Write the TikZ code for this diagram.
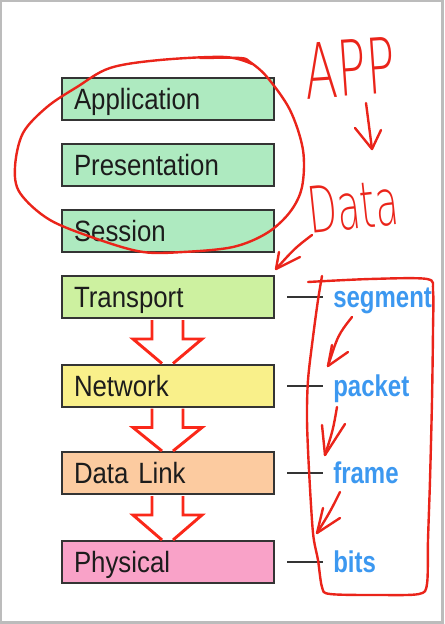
\documentclass[tikz,border=0pt]{standalone}
\usepackage{fontspec}
\setmainfont{Liberation Sans}
\newfontfamily\boxfont[FakeStretch=0.88]{Liberation Sans}
\newfontfamily\lblfont[FakeStretch=0.8]{Liberation Sans Bold}
\newfontfamily\handfont{DejaVu Sans ExtraLight}
\usetikzlibrary{calc}
\definecolor{framegray}{RGB}{188,188,188}
\definecolor{boxline}{RGB}{52,52,52}
\definecolor{txt}{RGB}{28,28,28}
\definecolor{fillA}{RGB}{174,234,192}
\definecolor{fillT}{RGB}{205,241,160}
\definecolor{fillN}{RGB}{249,240,138}
\definecolor{fillD}{RGB}{252,203,160}
\definecolor{fillP}{RGB}{249,162,200}
\definecolor{lblblue}{RGB}{60,152,240}
\definecolor{hollowred}{RGB}{250,40,25}
\definecolor{penred}{RGB}{234,36,26}
\begin{document}
\begin{tikzpicture}[x=0.75pt,y=-0.75pt,
  layerbox/.style={draw=boxline, line width=1.5pt, minimum width=159pt, minimum height=31.5pt,
    inner xsep=9pt, inner ysep=0pt, text width=141pt, align=left, text height=15.8pt, text depth=0pt,
    font=\boxfont\fontsize{22}{26}\selectfont, text=txt},
  lbl/.style={text=lblblue, font=\lblfont\fontsize{22.5}{26}\selectfont, inner xsep=7.5pt,
    inner ysep=0pt, text height=16pt, text depth=0pt, anchor=west},
  tick/.style={draw=boxline, line width=1.5pt},
  hollow/.style={draw=hollowred, line width=2.2pt, line join=miter},
  hand/.style={draw=penred, line width=1.8pt, line cap=round, line join=round},
  handtext/.style={text=penred, inner sep=0pt}]
\useasboundingbox (0,0) rectangle (444,624);
\draw[framegray, line width=1.6pt] (1,1) rectangle (442.5,622.5);

% layer boxes
\node[layerbox, fill=fillA] (app) at (168,99) {Application};
\node[layerbox, fill=fillA] (pre) at (168,165) {Presentation};
\node[layerbox, fill=fillA] (ses) at (168,231) {Session};
\node[layerbox, fill=fillT] (tra) at (168,297) {Transport};
\node[layerbox, fill=fillN] (net) at (168,385.5) {Network};
\node[layerbox, fill=fillD] (dl) at (168,473) {Data Link};
\node[layerbox, fill=fillP] (phy) at (168,562) {Physical};

% hollow arrows between layers
\foreach \a/\b in {tra/net, net/dl, dl/phy}{
  \draw[hollow] ($(\a.south)+(-16,1)$) -- ($(\a.south)+(-16,20)$) -- ($(\a.south)+(-35,20)$) -- ($(\b.north)+(-6,0)$);
  \draw[hollow] ($(\a.south)+(15,1)$) -- ($(\a.south)+(15,20)$) -- ($(\a.south)+(34,20)$) -- ($(\b.north)+(5,0)$);
}

% PDU labels
\node[lbl] (lt) at ($(tra.east)+(48,0)$) {segment};
\node[lbl] (ln) at ($(net.east)+(48,0)$) {packet};
\node[lbl] (ld) at ($(dl.east)+(48,0)$) {frame};
\node[lbl] (lp) at ($(phy.east)+(48,0)$) {bits};
\foreach \b/\l in {tra/lt, net/ln, dl/ld, phy/lp}
  \draw[tick] ($(\b.east)+(12,0)$) -- (\l.west);

% handwritten annotations
\draw[hand] plot[smooth, tension=0.55] coordinates {(200,58) (240,58) (250,62) (267,77) (290,110) (303,150) (302,187) (290,212) (267,233) (233,247) (183,252) (143,252) (100,240) (50,220) (20,193) (15,167) (23,133) (47,107) (77,87) (110,68) (160,60) (225,57) (252,64)};

\node[handtext, rotate=4] (apptxt) at (350,68) {\handfont\fontsize{32}{36}\selectfont\scalebox{1.12}[1.8]{APP}};
\coordinate (appA) at (366,103);
\coordinate (appB) at (372,149);
\draw[hand] (appA) -- (appB);
\draw[hand] (355,128) -- (appB) -- (381,130);

\node[handtext, rotate=6] (datatxt) at (353,206) {\handfont\fontsize{30}{34}\selectfont\scalebox{0.95}[1.6]{Data}};
\coordinate (dA) at (312,235);
\coordinate (dB) at ($(tra.north east)+(1,-6)$);
\draw[hand] (dA) .. controls (295,248) .. (dB);
\draw[hand] (279,252) -- (dB) -- (300,257);

\draw[hand] plot[smooth, tension=0.5] coordinates {(308,282) (370,279) (427,279) (433,291) (433,330) (432,400) (430,480) (428,540) (427,584) (419,594) (380,595) (330,594) (322,587) (318,560) (313,533) (309,470) (307,420) (308,380) (313,337) (318,300) (322,276)};

\coordinate (s1) at (352,317); \coordinate (t1) at (328,366);
\draw[hand] (s1) .. controls (338,335) .. (t1);
\draw[hand] (332,345) -- (t1) -- (348,352);
\coordinate (s2) at (337,407); \coordinate (t2) at (325,455);
\draw[hand] (s2) .. controls (333,430) .. (t2);
\draw[hand] (322,425) -- (t2) -- (345,424);
\coordinate (s3) at (340,492); \coordinate (t3) at (317,533);
\draw[hand] (s3) .. controls (330,512) .. (t3);
\draw[hand] (323,508) -- (t3) -- (340,518);
\end{tikzpicture}
\end{document}
